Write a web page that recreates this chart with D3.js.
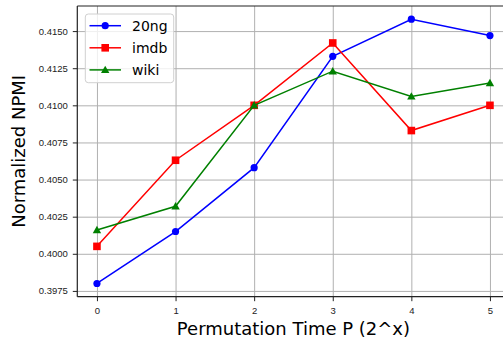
<!DOCTYPE html>
<html>
<head>
<meta charset="utf-8">
<script src="https://cdn.jsdelivr.net/npm/d3@7"></script>
<style>
  body { margin: 0; background: #fff; }
  svg { font-family: "DejaVu Sans", sans-serif; }
  .grid line { stroke: #b0b0b0; stroke-width: 1; }
  .grid path { display: none; }
  .axis text { font-size: 9.5px; fill: #222; }
  .axis line { stroke: #222; }
  .axis path { display: none; }
</style>
</head>
<body>
<svg width="503" height="337"></svg>
<script>
// Data
var xValues = [0, 1, 2, 3, 4, 5];
var yTicks = [0.3975, 0.4000, 0.4025, 0.4050, 0.4075, 0.4100, 0.4125, 0.4150];
var ng20 = [0.3980, 0.4015, 0.4058, 0.4133, 0.4158, 0.4147];
var imdb = [0.4005, 0.4063, 0.4100, 0.4142, 0.4083, 0.4100];
var wiki = [0.4016, 0.4032, 0.4100, 0.4123, 0.4106, 0.4115];

var series = [
  {name: '20ng', values: ng20, color: '#0000ff', marker: 'circle'},
  {name: 'imdb', values: imdb, color: '#ff0000', marker: 'square'},
  {name: 'wiki', values: wiki, color: '#008000', marker: 'triangle'}
];

var svg = d3.select('svg');
// plot area (right edge runs past the window, as in the original)
var plotL = 77.3, plotR = 509.6, plotT = 6, plotB = 296.7;

var allVals = ng20.concat(imdb, wiki);
var yMin = d3.min(allVals), yMax = d3.max(allVals);
var pad = (yMax - yMin) * 0.05;

var scaleX = d3.scaleLinear().domain([-0.25, 5.25]).range([plotL, plotR]);
var scaleY = d3.scaleLinear().domain([yMin - pad, yMax + pad]).range([plotB, plotT]);

// Grid
svg.append('g').attr('class', 'grid')
  .attr('transform', 'translate(0,' + plotB + ')')
  .call(d3.axisBottom(scaleX).tickValues(xValues).tickSize(-(plotB - plotT)).tickFormat(''));
svg.append('g').attr('class', 'grid')
  .attr('transform', 'translate(' + plotL + ',0)')
  .call(d3.axisLeft(scaleY).tickValues(yTicks).tickSize(-(plotR - plotL)).tickFormat(''));

// Axes
svg.append('g').attr('class', 'axis')
  .attr('transform', 'translate(0,' + plotB + ')')
  .call(d3.axisBottom(scaleX).tickValues(xValues).tickSize(4.5).tickPadding(6).tickFormat(d3.format('d')));
svg.append('g').attr('class', 'axis')
  .attr('transform', 'translate(' + plotL + ',0)')
  .call(d3.axisLeft(scaleY).tickValues(yTicks).tickSize(4.5).tickPadding(5).tickFormat(d3.format('.4f')));

// Spines
svg.append('line').attr('x1', plotL).attr('x2', plotL).attr('y1', plotT).attr('y2', plotB)
  .attr('stroke', '#222').attr('stroke-width', 1.2);
svg.append('line').attr('x1', plotL).attr('x2', plotR).attr('y1', plotB).attr('y2', plotB)
  .attr('stroke', '#222').attr('stroke-width', 1.2);
svg.append('line').attr('x1', plotL).attr('x2', plotR).attr('y1', plotT).attr('y2', plotT)
  .attr('stroke', '#222').attr('stroke-width', 1.2);

var line = d3.line()
  .x(function(d, i) { return scaleX(xValues[i]); })
  .y(function(d) { return scaleY(d); });

function drawMarker(g, type, x, y, color) {
  if (type === 'circle') {
    g.append('circle').attr('cx', x).attr('cy', y).attr('r', 3.6).attr('fill', color);
  } else if (type === 'square') {
    g.append('rect').attr('x', x - 3.8).attr('y', y - 3.8).attr('width', 7.6).attr('height', 7.6).attr('fill', color);
  } else {
    g.append('path')
      .attr('d', 'M' + x + ',' + (y - 4.2) + 'L' + (x + 4.2) + ',' + (y + 3.2) + 'L' + (x - 4.2) + ',' + (y + 3.2) + 'Z')
      .attr('fill', color);
  }
}

series.forEach(function(s) {
  var g = svg.append('g');
  g.append('path').datum(s.values)
    .attr('d', line)
    .attr('fill', 'none')
    .attr('stroke', s.color)
    .attr('stroke-width', 1.5);
  s.values.forEach(function(v, i) {
    drawMarker(g, s.marker, scaleX(xValues[i]), scaleY(v), s.color);
  });
});

// Legend
var legend = svg.append('g');
legend.append('rect')
  .attr('x', 85.3).attr('y', 14).attr('width', 88.4).attr('height', 68.7)
  .attr('rx', 3).attr('fill', '#fff').attr('fill-opacity', 0.8)
  .attr('stroke', '#d0d0d0').attr('stroke-width', 1);
series.forEach(function(s, i) {
  var ly = 25.7 + i * 22.1;
  legend.append('line').attr('x1', 89.5).attr('x2', 121).attr('y1', ly).attr('y2', ly)
    .attr('stroke', s.color).attr('stroke-width', 1.5);
  drawMarker(legend, s.marker, 105.2, ly, s.color);
  legend.append('text').attr('x', 132).attr('y', ly + 5)
    .attr('font-size', '14px').attr('fill', '#000').text(s.name);
});

// Axis labels
svg.append('text')
  .attr('x', (plotL + plotR) / 2).attr('y', 334.5)
  .attr('text-anchor', 'middle').attr('font-size', '18px').attr('fill', '#000')
  .text('Permutation Time P (2^x)');
svg.append('text')
  .attr('transform', 'translate(25,' + ((plotT + plotB) / 2) + ')rotate(-90)')
  .attr('text-anchor', 'middle').attr('font-size', '18px').attr('fill', '#000')
  .text('Normalized NPMI');
</script>
</body>
</html>
